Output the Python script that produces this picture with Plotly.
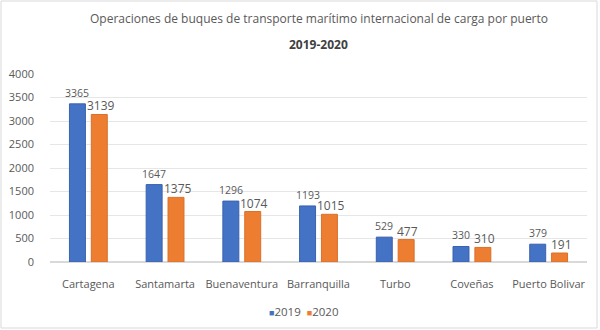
import plotly.graph_objects as go

puertos = ["Cartagena", "Santamarta", "Buenaventura", "Barranquilla",
           "Turbo", "Coveñas", "Puerto Bolivar"]
ops_2019 = [3365, 1647, 1296, 1193, 529, 330, 379]
ops_2020 = [3139, 1375, 1074, 1015, 477, 310, 191]

AZUL = "#4472C4"
NARANJA = "#ED7D31"
GRIS = "#595959"
FUENTE = "Open Sans"

W, H = 600, 330
ML, MR, MT, MB = 50, 13, 74, 68
alto = H - MT - MB
ancho = W - ML - MR


def fila(py):
    """Pixel row (from the top of the page) -> paper y coordinate."""
    return ((H - MB) - py) / alto


def col(px):
    """Pixel column -> paper x coordinate."""
    return (px - ML) / ancho


BARGAP = 0.43
GROUPGAP = 0.27
desplaz = (1 - BARGAP) / 4

fig = go.Figure()
fig.add_trace(go.Bar(name="2019", x=puertos, y=ops_2019, showlegend=False,
                     marker=dict(color=AZUL, line=dict(color="#3A62AD", width=1))))
fig.add_trace(go.Bar(name="2020", x=puertos, y=ops_2020, showlegend=False,
                     marker=dict(color=NARANJA, line=dict(color="#D9702A", width=1))))

anots = []
for i, (a, b) in enumerate(zip(ops_2019, ops_2020)):
    anots.append(dict(x=i - desplaz, y=a, xref="x", yref="y", text=str(a),
                      showarrow=False, yanchor="bottom", yshift=2,
                      font=dict(size=10.5, color=GRIS, family=FUENTE)))
    anots.append(dict(x=i + desplaz + 0.02, y=b, xref="x", yref="y", text=str(b),
                      showarrow=False, yanchor="bottom", yshift=-2,
                      font=dict(size=12, color=GRIS, family=FUENTE)))

# titles
anots.append(dict(x=0.5, y=fila(18), xref="paper", yref="paper", yanchor="middle",
                  text="Operaciones de buques de transporte marítimo internacional de carga por puerto",
                  showarrow=False, font=dict(size=12, color=GRIS, family=FUENTE)))
anots.append(dict(x=0.5, y=fila(44), xref="paper", yref="paper", yanchor="middle",
                  text="<b>2019-2020</b>", showarrow=False,
                  font=dict(size=12, color="#404040", family=FUENTE)))

# compact legend
leyenda = (f"<span style='color:{AZUL};font-size:9px'>■</span>2019&nbsp;&nbsp;"
           f"<span style='color:{NARANJA};font-size:9px'>■</span>2020")
anots.append(dict(x=col(303), y=fila(311), xref="paper", yref="paper",
                  xanchor="center", yanchor="middle", text=leyenda, showarrow=False,
                  font=dict(size=11.5, color=GRIS, family=FUENTE)))

fig.update_layout(
    width=W, height=H,
    margin=dict(l=ML, r=MR, t=MT, b=MB, autoexpand=False),
    paper_bgcolor="white", plot_bgcolor="white",
    barmode="group", bargap=BARGAP, bargroupgap=GROUPGAP,
    font=dict(family=FUENTE, color=GRIS, size=11),
    showlegend=False,
    annotations=anots,
    shapes=[dict(type="rect", xref="paper", yref="paper",
                 x0=col(1), x1=col(597), y0=fila(328), y1=fila(1),
                 line=dict(color="#D9D9D9", width=1))],
)
fig.update_yaxes(range=[0, 4000], dtick=500, showgrid=True, gridcolor="#E6E6E6",
                 gridwidth=1, zeroline=True, zerolinecolor="#D9D9D9",
                 tickfont=dict(size=11, color=GRIS), ticks="", ticklabelstandoff=15)
fig.update_xaxes(tickfont=dict(size=11, color=GRIS), showline=False, ticks="",
                 ticklabelstandoff=14)

fig.write_html("out.html")
